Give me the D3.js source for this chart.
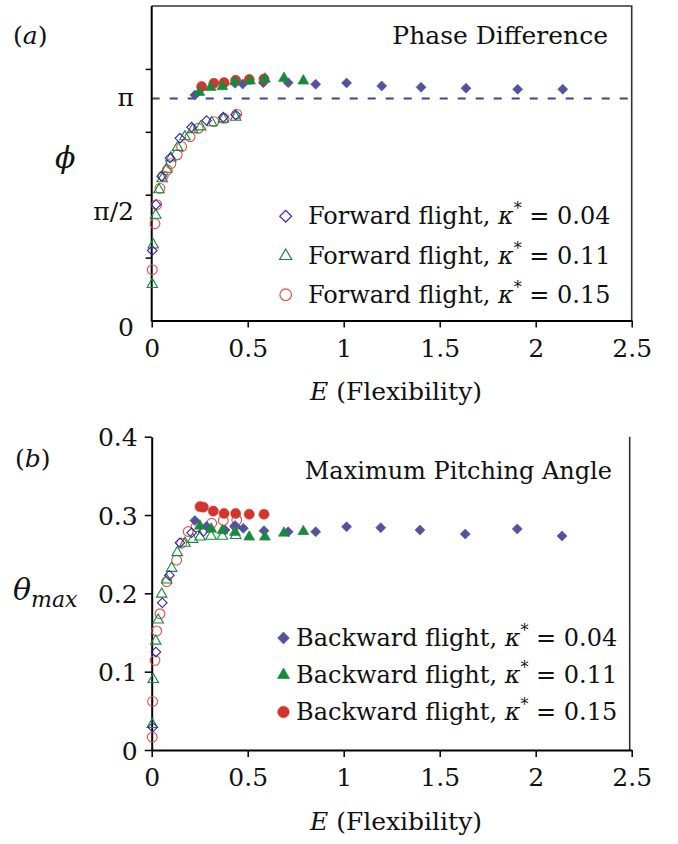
<!DOCTYPE html>
<html>
<head>
<meta charset="utf-8">
<script src="https://cdn.jsdelivr.net/npm/d3@7"></script>
<style>
  html, body { margin: 0; padding: 0; background: #fff; }
  svg { display: block; }
  text { font-family: "DejaVu Serif", "Liberation Serif", serif; fill: #111; }
</style>
</head>
<body>
<svg id="chart" width="678" height="844"></svg>
<script>
// ---------- data ----------
const xTicks = [0, 0.5, 1, 1.5, 2, 2.5];
const xTickLabels = ["0", "0.5", "1", "1.5", "2", "2.5"];

// (a) phase difference phi [rad]
const phiLabelVals = [0, Math.PI / 2, Math.PI];
const phiLabels = ["0", "\u03C0/2", "\u03C0"];
const phiMinorTicks = [0.89, 1.78, 2.67, 3.56];

const fwd04_E_a = [0.003, 0.022, 0.052, 0.095, 0.147, 0.208, 0.286, 0.373, 0.4375];
const fwd04_phi = [0.99, 1.64, 2.04, 2.30, 2.58, 2.736, 2.83, 2.877, 2.91];
const fwd11_E_a = [0.003, 0.008, 0.021, 0.038, 0.055, 0.078, 0.10, 0.135, 0.173, 0.213, 0.255, 0.3125, 0.373, 0.4375];
const fwd11_phi = [0.51, 1.07, 1.49, 1.85, 2.006, 2.14, 2.30, 2.45, 2.60, 2.70, 2.74, 2.80, 2.85, 2.877];
const fwd15_E_a = [0.003, 0.017, 0.026, 0.043, 0.060, 0.081, 0.10, 0.133, 0.156, 0.20, 0.243, 0.324, 0.377, 0.443];
const fwd15_phi = [0.72, 1.37, 1.64, 1.87, 2.05, 2.13, 2.22, 2.345, 2.46, 2.60, 2.72, 2.815, 2.86, 2.92];

const bwd04_E_a = [0.225, 0.434, 0.474, 0.581, 0.711, 0.854, 1.015, 1.198, 1.403, 1.637, 1.906, 2.141];
const bwd04_phi = [3.19, 3.357, 3.347, 3.366, 3.366, 3.343, 3.362, 3.319, 3.30, 3.287, 3.272, 3.272];
const bwd11_E_a = [0.248, 0.307, 0.368, 0.434, 0.512, 0.590, 0.689, 0.790];
const bwd11_phi = [3.23, 3.30, 3.31, 3.38, 3.39, 3.418, 3.428, 3.39];
const bwd15_E_a = [0.260, 0.324, 0.377, 0.4375, 0.508, 0.585];
const bwd15_phi = [3.31, 3.357, 3.366, 3.40, 3.41, 3.418];

// (b) maximum pitching angle theta_max
const thetaTicks = [0, 0.1, 0.2, 0.3, 0.4];
const thetaTickLabels = ["0", "0.1", "0.2", "0.3", "0.4"];

const fwd04_E_b = [0.005, 0.022, 0.055, 0.092, 0.147, 0.208, 0.269, 0.434];
const fwd04_theta = [0.029, 0.125, 0.188, 0.223, 0.2646, 0.2774, 0.279, 0.285];
const fwd11_E_b = [0.003, 0.008, 0.021, 0.034, 0.052, 0.078, 0.104, 0.133, 0.173, 0.2135, 0.2516, 0.309, 0.368, 0.4375];
const fwd11_theta = [0.0326, 0.090, 0.139, 0.166, 0.199, 0.217, 0.232, 0.252, 0.264, 0.269, 0.272, 0.273, 0.273, 0.274];
const fwd15_E_b = [0.003, 0.005, 0.017, 0.026, 0.043, 0.078, 0.130, 0.156, 0.19, 0.231, 0.3125, 0.373, 0.443];
const fwd15_theta = [0.0164, 0.062, 0.1145, 0.152, 0.174, 0.215, 0.2425, 0.264, 0.279, 0.285, 0.2895, 0.293, 0.2937];

const bwd04_E_b = [0.225, 0.286, 0.382, 0.434, 0.477, 0.585, 0.711, 0.854, 1.015, 1.193, 1.397, 1.633, 1.904, 2.137];
const bwd04_theta = [0.293, 0.2856, 0.2808, 0.2866, 0.283, 0.280, 0.2786, 0.2786, 0.285, 0.2838, 0.2808, 0.2757, 0.2823, 0.2731];
const bwd11_E_b = [0.251, 0.310, 0.368, 0.434, 0.508, 0.590, 0.689, 0.790];
const bwd11_theta = [0.286, 0.282, 0.280, 0.278, 0.272, 0.272, 0.277, 0.279];
const bwd15_E_b = [0.2516, 0.269, 0.321, 0.377, 0.4375, 0.508, 0.585];
const bwd15_theta = [0.3107, 0.310, 0.305, 0.302, 0.302, 0.301, 0.301];

const kappaLabels = ["0.04", "0.11", "0.15"];

// ---------- styling ----------
const FONT = "DejaVu Serif, Liberation Serif, serif";
const FS = 25;
const C = {
  diaFill: "#52529e",
  diaOpen: "#3d22b0",
  green: "#178a3c",
  redFill: "#d3352c",
  redOpen: "#e0504c",
  dash: "#4a3f9c"
};

const svg = d3.select("#chart");
const zip = (xs, ys) => xs.map((x, i) => ({ x, y: ys[i] }));

const x = d3.scaleLinear().domain([0, 2.5]).range([151.7, 631.7]);

// symbol generators
const diamond = (s) => d3.symbol().type(d3.symbolSquare).size(s);
const triangle = (s) => d3.symbol().type(d3.symbolTriangle).size(s);
const circle = (s) => d3.symbol().type(d3.symbolCircle).size(s);

function drawPoints(g, pts, y, kind, filled, color, size) {
  const gen = kind === "d" ? diamond(size) : kind === "t" ? triangle(size) : circle(size);
  g.append("g").selectAll("path").data(pts).join("path")
    .attr("d", gen)
    .attr("transform", d => `translate(${x(d.x)},${y(d.y)})` + (kind === "d" ? " rotate(45)" : ""))
    .attr("fill", filled ? color : "none")
    .attr("stroke", color)
    .attr("stroke-width", filled ? 0.6 : 1.1);
}

function xAxis(g, yPix) {
  const ax = g.append("g").attr("transform", `translate(0,${yPix})`)
    .call(d3.axisBottom(x).tickValues(xTicks).tickSize(7).tickSizeOuter(0)
      .tickFormat((d, i) => xTickLabels[i]));
  ax.select(".domain").attr("stroke", "#000").attr("stroke-width", 2);
  ax.selectAll(".tick line").attr("stroke", "#000").attr("stroke-width", 1.5);
  ax.selectAll(".tick text").attr("font-size", FS).attr("fill", "#111")
    .attr("font-family", FONT).attr("dy", "1.05em");
  return ax;
}

function axisTitle(g, cx, yBase) {
  const t = g.append("text").attr("x", cx).attr("y", yBase).attr("text-anchor", "middle").attr("font-size", FS);
  t.append("tspan").attr("font-style", "italic").text("E");
  t.append("tspan").text(" (Flexibility)");
}

function legendRow(g, xm, ym, xt, yb, kind, filled, color, prefix, kappa) {
  const gen = kind === "d" ? diamond(70) : kind === "t" ? triangle(64) : circle(105);
  g.append("path").attr("d", gen)
    .attr("transform", `translate(${xm},${ym})` + (kind === "d" ? " rotate(45)" : ""))
    .attr("fill", filled ? color : "none").attr("stroke", color).attr("stroke-width", filled ? 0.6 : 1.2);
  const t = g.append("text").attr("x", xt).attr("y", yb).attr("font-size", 24);
  t.append("tspan").text(prefix + " flight, ");
  t.append("tspan").attr("font-style", "italic").text("\u03BA");
  t.append("tspan").attr("font-size", 16).attr("dy", -10).text("*");
  t.append("tspan").attr("dy", 10).text(" = " + kappa);
}

// ---------- panel (a) ----------
const ya = d3.scaleLinear().domain([0, Math.PI]).range([320.5, 98.5]);
const ga = svg.append("g");
const topA = 6;

// frame (top and right)
ga.append("path").attr("d", `M${x(0)},${topA}H${x(2.5)}V${ya(0)}`)
  .attr("fill", "none").attr("stroke", "#333").attr("stroke-width", 1.6);

// phi = pi reference
ga.append("line").attr("x1", x(0)).attr("x2", x(2.5)).attr("y1", ya(Math.PI)).attr("y2", ya(Math.PI))
  .attr("stroke", C.dash).attr("stroke-width", 2).attr("stroke-dasharray", "8,10");

// left axis
const axA = ga.append("g").attr("transform", `translate(${x(0)},0)`)
  .call(d3.axisLeft(ya).tickValues(phiMinorTicks).tickSize(6).tickSizeOuter(0).tickFormat(""));
axA.select(".domain").attr("d", `M0,${topA}V${ya(0) + 1}`).attr("stroke", "#000").attr("stroke-width", 2);
axA.selectAll(".tick line").attr("stroke", "#000").attr("stroke-width", 1.5);

// tick labels 0, pi/2, pi
const phiLabelDy = [15, 10, 7];
ga.append("g").selectAll("text").data(phiLabelVals).join("text")
  .attr("x", 134).attr("y", (d, i) => ya(d) + phiLabelDy[i])
  .attr("text-anchor", "end").attr("font-size", FS)
  .text((d, i) => phiLabels[i]);

xAxis(ga, ya(0));
axisTitle(ga, 396, 400);

ga.append("text").attr("x", 55).attr("y", 168).attr("font-size", 30).attr("font-style", "italic").text("\u03D5");
const la = ga.append("text").attr("x", 13).attr("y", 44).attr("font-size", FS);
la.append("tspan").text("(");
la.append("tspan").attr("font-style", "italic").text("a");
la.append("tspan").text(")");
ga.append("text").attr("x", 608).attr("y", 44).attr("text-anchor", "end").attr("font-size", FS).text("Phase Difference");

// data (a)
drawPoints(ga, zip(fwd15_E_a, fwd15_phi), ya, "c", false, C.redOpen, 75);
drawPoints(ga, zip(fwd11_E_a, fwd11_phi), ya, "t", false, C.green, 48);
drawPoints(ga, zip(fwd04_E_a, fwd04_phi), ya, "d", false, C.diaOpen, 46);
drawPoints(ga, zip(bwd04_E_a, bwd04_phi), ya, "d", true, C.diaFill, 50);
drawPoints(ga, zip(bwd15_E_a, bwd15_phi), ya, "c", true, C.redFill, 80);
drawPoints(ga, zip(bwd11_E_a, bwd11_phi), ya, "t", true, C.green, 52);

// legend (a)
const legA = ga.append("g");
[["d", C.diaOpen], ["t", C.green], ["c", C.redOpen]].forEach((m, i) => {
  const yb = [224.3, 264, 302.7][i];
  legendRow(legA, 285.7, yb - 8, 308, yb, m[0], false, m[1], "Forward", kappaLabels[i]);
});

// ---------- panel (b) ----------
const yb = d3.scaleLinear().domain([0, 0.4]).range([750, 436.7]);
const gb = svg.append("g");

gb.append("path").attr("d", `M${x(2.5) - 2},${yb(0.4)}V${yb(0)}`)
  .attr("fill", "none").attr("stroke", "#333").attr("stroke-width", 1.6);

const axB = gb.append("g").attr("transform", `translate(${x(0)},0)`)
  .call(d3.axisLeft(yb).tickValues(thetaTicks).tickSize(7).tickSizeOuter(0)
    .tickFormat((d, i) => thetaTickLabels[i]));
axB.select(".domain").attr("stroke", "#000").attr("stroke-width", 2);
axB.selectAll(".tick line").attr("stroke", "#000").attr("stroke-width", 1.5);
axB.selectAll(".tick text").attr("font-size", FS).attr("fill", "#111")
  .attr("font-family", FONT).attr("x", -14).attr("dy", "0.36em");

xAxis(gb, yb(0));
axisTitle(gb, 396, 829.5);

const tl = gb.append("text").attr("x", 13).attr("y", 600).attr("font-size", 30).attr("font-style", "italic");
tl.append("tspan").text("\u03B8");
tl.append("tspan").attr("font-size", 22).attr("dy", 7).text("max");
const lb = gb.append("text").attr("x", 15).attr("y", 467).attr("font-size", FS);
lb.append("tspan").text("(");
lb.append("tspan").attr("font-style", "italic").text("b");
lb.append("tspan").text(")");
gb.append("text").attr("x", 612).attr("y", 479).attr("text-anchor", "end").attr("font-size", 24).text("Maximum Pitching Angle");

// data (b)
drawPoints(gb, zip(fwd15_E_b, fwd15_theta), yb, "c", false, C.redOpen, 75);
drawPoints(gb, zip(fwd11_E_b, fwd11_theta), yb, "t", false, C.green, 48);
drawPoints(gb, zip(fwd04_E_b, fwd04_theta), yb, "d", false, C.diaOpen, 46);
drawPoints(gb, zip(bwd15_E_b, bwd15_theta), yb, "c", true, C.redFill, 80);
drawPoints(gb, zip(bwd04_E_b, bwd04_theta), yb, "d", true, C.diaFill, 50);
drawPoints(gb, zip(bwd11_E_b, bwd11_theta), yb, "t", true, C.green, 52);

// legend (b)
const legB = gb.append("g");
[["d", C.diaFill], ["t", C.green], ["c", C.redFill]].forEach((m, i) => {
  const ybase = [646, 683, 720][i];
  legendRow(legB, 283.5, ybase - 8, 296, ybase, m[0], true, m[1], "Backward", kappaLabels[i]);
});
</script>
</body>
</html>
